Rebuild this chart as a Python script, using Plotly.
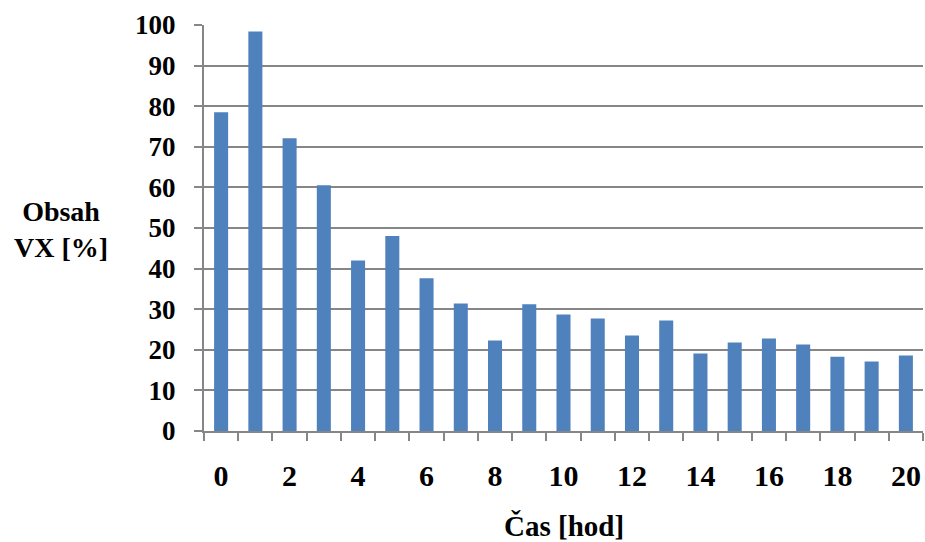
import plotly.graph_objects as go

# Sampling times [h] and measured VX content [%]
hours = list(range(21))
vx_content = [78.5, 98.4, 72.1, 60.5, 42.0, 48.0, 37.6, 31.4, 22.3, 31.2, 28.7,
              27.7, 23.5, 27.2, 19.1, 21.8, 22.8, 21.3, 18.3, 17.1, 18.6]

x_tick_vals = list(range(0, 21, 2))
y_tick_vals = list(range(0, 101, 10))

FONT = "Liberation Serif"
GRAY = "#868686"
BAR = "#4F81BD"

fig = go.Figure(
    go.Bar(x=hours, y=vx_content, marker=dict(color=BAR, line=dict(width=0)))
)

fig.update_layout(
    width=925,
    height=542,
    margin=dict(l=204, r=2, t=25, b=111),
    paper_bgcolor="white",
    plot_bgcolor="white",
    bargap=0.59,
    showlegend=False,
    font=dict(family=FONT, color="black", size=27),
)

fig.update_xaxes(
    range=[-0.5, 20.5],
    tickmode="array",
    tickvals=x_tick_vals,
    ticktext=[f"<b>{v}</b>" for v in x_tick_vals],
    tickfont=dict(family=FONT, size=30, color="black"),
    ticks="",
    ticklabelstandoff=17,
    showgrid=False,
    zeroline=False,
    showline=True,
    linecolor=GRAY,
    linewidth=2,
    minor=dict(
        tickmode="array",
        tickvals=[h - 0.5 for h in hours] + [hours[-1] + 0.5],
        ticks="outside",
        ticklen=8,
        tickwidth=2,
        tickcolor=GRAY,
        showgrid=False,
    ),
)

fig.update_yaxes(
    range=[0, 100],
    tickmode="array",
    tickvals=y_tick_vals,
    ticktext=[f"<b>{v}</b>" for v in y_tick_vals],
    tickfont=dict(family=FONT, size=27, color="black"),
    ticks="outside",
    ticklen=8,
    tickwidth=2,
    tickcolor=GRAY,
    ticklabelstandoff=13,
    showgrid=True,
    gridcolor=GRAY,
    gridwidth=2,
    zeroline=False,
    showline=True,
    linecolor=GRAY,
    linewidth=2,
)

# Axis titles
fig.add_annotation(
    text="<b>Obsah<br>VX [%]</b>",
    xref="paper", yref="paper",
    x=-0.199, y=0.496,
    xanchor="center", yanchor="middle",
    showarrow=False,
    align="center",
    font=dict(family=FONT, size=28, color="black"),
)
fig.add_annotation(
    text="<b>Čas [hod]</b>",
    xref="paper", yref="paper",
    x=0.5, y=-0.235,
    xanchor="center", yanchor="middle",
    showarrow=False,
    font=dict(family=FONT, size=29, color="black"),
)

fig.write_html("out.html")
